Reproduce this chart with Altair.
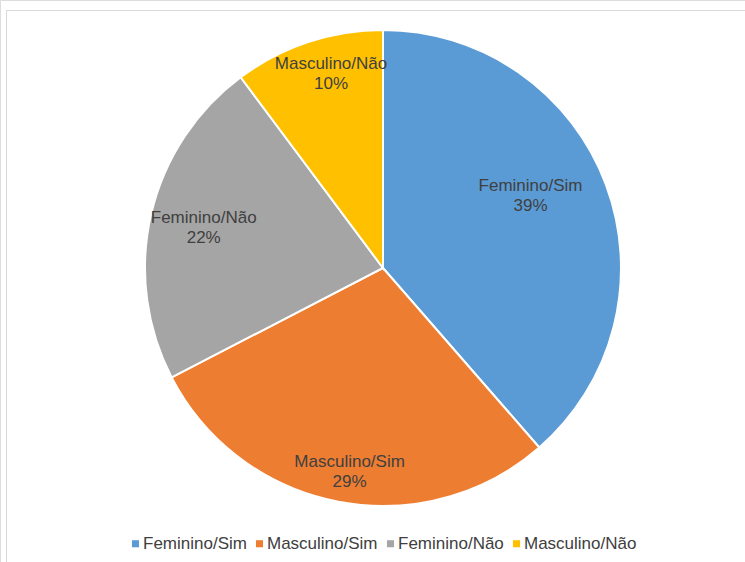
import altair as alt
import pandas as pd

categories = ["Feminino/Sim", "Masculino/Sim", "Feminino/Não", "Masculino/Não"]
values = [38.6, 28.8, 22.4, 10.2]
labels = ["39%", "29%", "22%", "10%"]
colors = ["#5B9BD5", "#ED7D31", "#A5A5A5", "#FFC000"]

df = pd.DataFrame({
    "cat": categories,
    "value": values,
    "pct": labels,
    "ord": list(range(len(categories))),
})

W, H = 745, 562
CX, CY, R = 383, 268, 238
FONT = "Liberation Sans"
TXT = "#404040"

base = alt.Chart(df)

color = alt.Color(
    "cat:N",
    scale=alt.Scale(domain=categories, range=colors),
    sort=categories,
    legend=alt.Legend(
        title=None, orient="none", direction="horizontal",
        legendX=127, legendY=535, symbolType="square", symbolSize=50,
        symbolStrokeWidth=0, labelFontSize=17, labelFont=FONT,
        labelColor=TXT, columnPadding=4, labelOffset={"expr": "-1"}, columns=4,
    ),
)

stacked = (
    base.transform_joinaggregate(total="sum(value)")
    .transform_window(cum="sum(value)", sort=[alt.SortField("ord")])
    .transform_calculate(
        start="(datum.cum - datum.value) / datum.total",
        end="datum.cum / datum.total",
        mid="(datum.cum - datum.value/2) / datum.total",
        lab="[datum.cat, datum.pct]",
    )
)

theta_scale = alt.Scale(domain=[0, 1])

pie = stacked.mark_arc(radius=R, stroke="white", strokeWidth=2).encode(
    theta=alt.Theta("start:Q", scale=theta_scale),
    theta2="end:Q",
    color=color,
    x=alt.value(CX), y=alt.value(CY),
)

# label radius and nudges (dx, dy) per slice, mimicking the reference's placement
label_place = {
    "Feminino/Sim": (165, -7, -24),
    "Masculino/Sim": (205, 5, -7),
    "Feminino/Não": (184, 0, -9),
    "Masculino/Não": (200, 11, -14),
}

layers = [pie]
for cat, (r, dx, dy) in label_place.items():
    t = (
        stacked.transform_filter(alt.datum.cat == cat)
        .mark_text(radius=r, dx=dx, dy=dy, fontSize=17, font=FONT, color=TXT,
                   lineHeight=20, align="center", baseline="middle")
        .encode(
            theta=alt.Theta("mid:Q", scale=theta_scale),
            text="lab:N",
            x=alt.value(CX), y=alt.value(CY),
        )
    )
    layers.append(t)

frame_top = base.mark_rule(color="#d9d9d9", strokeWidth=1).encode(
    x=alt.value(6), x2=alt.value(W), y=alt.value(10.5)
)
frame_left = base.mark_rule(color="#d9d9d9", strokeWidth=1).encode(
    x=alt.value(6.5), y=alt.value(10), y2=alt.value(H)
)

chart = alt.layer(frame_top, frame_left, *layers).properties(
    width=W, height=H, autosize=alt.AutoSizeParams(type="none"), padding=0
).configure_view(stroke=None).configure(background="white")

chart.save("out.html", embed_options={"renderer": "svg", "actions": False})
